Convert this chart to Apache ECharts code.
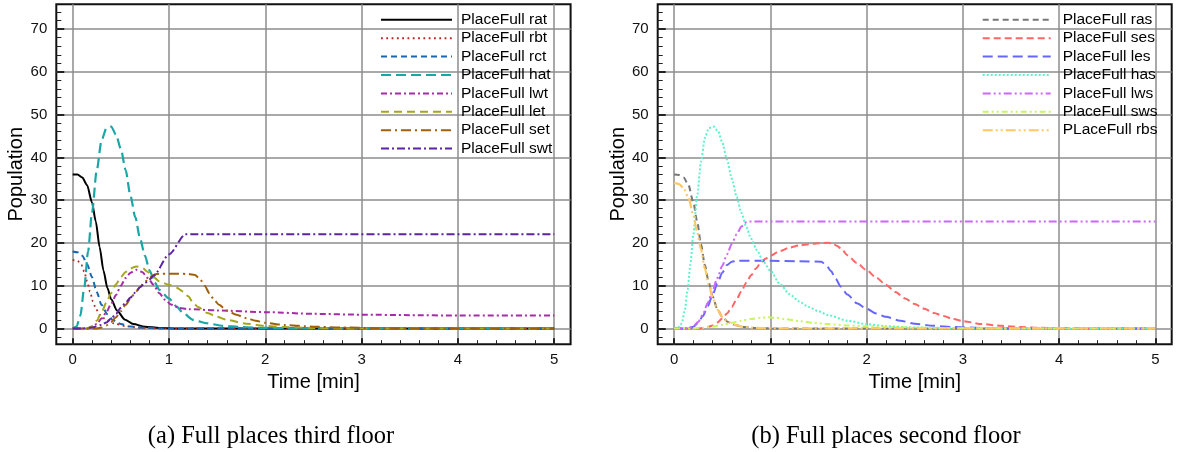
<!DOCTYPE html>
<html><head><meta charset="utf-8">
<script src="https://cdn.jsdelivr.net/npm/echarts@6/dist/echarts.min.js"></script>
<style>html,body{margin:0;padding:0;background:#fff}#c{width:1179px;height:452px}</style>
</head><body><div id="c"></div>
<script>
// ---- axis ticks ----
const xTicks = [0, 1, 2, 3, 4, 5];
const xMinorTicks = [0.2, 0.4, 0.6, 0.8, 1.2, 1.4, 1.6, 1.8, 2.2, 2.4, 2.6, 2.8, 3.2, 3.4, 3.6, 3.8, 4.2, 4.4, 4.6, 4.8];
const yTicks = [0, 10, 20, 30, 40, 50, 60, 70];
const yMinorTicks = [-2, 2, 4, 6, 8, 12, 14, 16, 18, 22, 24, 26, 28, 32, 34, 36, 38, 42, 44, 46, 48, 52, 54, 56, 58, 62, 64, 66, 68, 72, 74];
const xName = 'Time [min]';
const yName = 'Population';
const captionA = '(a) Full places third floor';
const captionB = '(b) Full places second floor';

// ---- third floor series [time, population] ----
const rat = [[0,36],[0.05,36],[0.1,35.3],[0.15,33.5],[0.2,29.5],[0.24,25],[0.28,19],[0.32,13.5],[0.36,9.5],[0.4,6.8],[0.46,4.2],[0.54,2.1],[0.63,1.0],[0.75,0.4],[0.9,0.1],[1.1,0],[5,0]];
const rbt = [[0,16],[0.05,15.8],[0.09,14.9],[0.12,13.3],[0.15,11],[0.18,8.6],[0.21,6.3],[0.24,4.6],[0.28,3.2],[0.35,2.0],[0.45,1.0],[0.55,0.5],[0.7,0.15],[0.9,0],[5,0]];
const rct = [[0,18],[0.05,17.8],[0.1,17],[0.15,15],[0.2,12],[0.25,8.5],[0.3,5.5],[0.36,3.3],[0.42,1.9],[0.5,1.0],[0.6,0.45],[0.75,0.15],[0.9,0],[5,0]];
const hat = [[0,0],[0.04,0.4],[0.08,3],[0.12,9.5],[0.16,18],[0.2,27],[0.25,37],[0.3,44],[0.35,46.8],[0.4,47.2],[0.45,45.3],[0.5,42],[0.55,37],[0.6,31],[0.65,26],[0.7,21],[0.75,17],[0.8,13.5],[0.85,10.8],[0.9,9],[1.0,7],[1.08,5.1],[1.15,3.5],[1.25,2.0],[1.39,1.2],[1.56,0.6],[1.75,0.3],[2.0,0.1],[2.3,0],[5,0]];
const lwt = [[0,0],[0.15,0],[0.2,0.3],[0.25,1],[0.3,2.3],[0.35,3.8],[0.4,5.8],[0.45,7.8],[0.5,10],[0.55,11.8],[0.6,13],[0.66,13.7],[0.72,13.2],[0.78,11.8],[0.84,10.2],[0.9,8.2],[0.96,6.7],[1.02,5.6],[1.1,4.8],[1.2,4.5],[1.5,4.2],[2,3.8],[2.5,3.4],[3,3.2],[3.5,3.1],[4,3.0],[5,3.0]];
const letS = [[0,0],[0.15,0],[0.2,0.5],[0.25,1.8],[0.3,3.8],[0.35,6],[0.4,8.3],[0.45,10.3],[0.5,12],[0.55,13.2],[0.6,14],[0.66,14.5],[0.72,14.2],[0.78,13.2],[0.84,12],[0.9,11],[1.0,10.2],[1.08,9.5],[1.15,8.6],[1.2,7.5],[1.25,6],[1.3,5],[1.4,3.6],[1.5,2.7],[1.6,2],[1.8,1.1],[2.0,0.6],[2.2,0.3],[2.5,0.1],[2.8,0],[5,0]];
const setS = [[0,0],[0.25,0],[0.3,0.2],[0.35,0.7],[0.4,1.5],[0.45,2.6],[0.5,4],[0.55,5.5],[0.6,7],[0.65,8.4],[0.7,9.7],[0.75,10.9],[0.8,11.9],[0.85,12.6],[0.9,12.8],[1.0,12.8],[1.1,12.8],[1.2,12.7],[1.27,12.5],[1.32,11.6],[1.37,10],[1.42,8.2],[1.47,6.6],[1.52,5.5],[1.6,4.2],[1.7,3.2],[1.8,2.4],[1.9,1.8],[2.0,1.3],[2.2,0.8],[2.5,0.4],[2.8,0.2],[3.2,0.05],[3.5,0],[5,0]];
const swt = [[0,0],[0.1,0],[0.2,0.2],[0.3,0.8],[0.35,1.4],[0.4,2.3],[0.45,3.4],[0.5,4.8],[0.55,6],[0.6,7.2],[0.65,8.4],[0.7,9.6],[0.75,10.6],[0.8,11.5],[0.84,12.3],[1.0,17.3],[1.17,22],[1.3,22],[5,22]];

// ---- second floor series ----
const ras = [[0,36],[0.05,35.9],[0.1,35.3],[0.15,33.5],[0.2,29.5],[0.24,25],[0.28,19.7],[0.32,14.8],[0.36,10.8],[0.4,7.5],[0.45,4.5],[0.5,2.7],[0.56,1.5],[0.63,0.8],[0.72,0.35],[0.85,0.1],[1.0,0],[5,0]];
const ses = [[0,0],[0.25,0],[0.3,0.1],[0.35,0.3],[0.4,0.7],[0.45,1.4],[0.5,2.3],[0.55,3.5],[0.6,5],[0.65,6.8],[0.7,8.7],[0.75,10.7],[0.8,12.4],[0.85,14],[0.9,15.3],[0.95,16.3],[1.0,17.0],[1.1,18.1],[1.2,18.9],[1.3,19.4],[1.4,19.7],[1.5,19.9],[1.6,20],[1.65,19.8],[1.7,19.2],[1.75,18.3],[1.8,17.1],[1.9,15.3],[2.0,13.6],[2.1,11.9],[2.2,10.2],[2.3,8.5],[2.4,7.0],[2.5,5.7],[2.6,4.6],[2.7,3.6],[2.8,2.9],[2.9,2.2],[3.0,1.7],[3.2,1.0],[3.4,0.6],[3.6,0.3],[3.8,0.15],[4.0,0.05],[4.3,0],[5,0]];
const les = [[0,0],[0.15,0],[0.2,0.4],[0.25,1.3],[0.3,2.9],[0.35,5.2],[0.4,7.8],[0.45,10.5],[0.5,13],[0.55,14.8],[0.6,15.6],[0.65,15.8],[1.0,15.8],[1.3,15.7],[1.53,15.6],[1.58,14.8],[1.63,13.4],[1.68,11.6],[1.73,9.8],[1.8,7.9],[1.9,5.9],[2.0,4.6],[2.1,3.5],[2.2,2.7],[2.35,1.8],[2.5,1.1],[2.7,0.6],[2.9,0.3],[3.2,0.1],[3.5,0],[5,0]];
const has = [[0,0],[0.05,0.3],[0.08,1.2],[0.11,4],[0.14,9],[0.17,15],[0.2,22],[0.24,31],[0.28,39],[0.32,44.5],[0.36,46.8],[0.41,47.2],[0.46,46],[0.5,43.5],[0.55,39.5],[0.6,35],[0.65,30.8],[0.7,27],[0.75,23.8],[0.8,21],[0.86,18.3],[0.93,15.5],[1.0,13.5],[1.1,10.4],[1.2,8],[1.3,6.3],[1.4,5],[1.5,4],[1.6,3.1],[1.8,1.8],[2.0,1.0],[2.2,0.5],[2.5,0.2],[3.0,0.05],[3.4,0],[5,0]];
const lws = [[0,0],[0.1,0],[0.15,0.1],[0.2,0.5],[0.25,1.5],[0.3,3.3],[0.35,6],[0.4,8.8],[0.45,11.8],[0.5,14.6],[0.55,17.3],[0.6,19.8],[0.65,22],[0.7,23.8],[0.75,24.8],[0.78,25],[5,25]];
const sws = [[0,0],[0.2,0],[0.3,0.15],[0.4,0.4],[0.5,0.8],[0.6,1.3],[0.7,1.8],[0.8,2.2],[0.9,2.5],[0.97,2.6],[1.05,2.5],[1.15,2.2],[1.3,1.7],[1.45,1.3],[1.6,1.0],[1.8,0.7],[2.0,0.5],[2.3,0.3],[2.7,0.1],[3.2,0],[5,0]];
const rbs = [[0,34],[0.05,33.8],[0.1,32.8],[0.15,30.5],[0.2,26.5],[0.24,22.5],[0.28,18.5],[0.32,14],[0.36,10.3],[0.4,7.2],[0.45,4.4],[0.5,2.7],[0.56,1.5],[0.63,0.8],[0.72,0.35],[0.85,0.1],[1.0,0],[5,0]];

const leftSeries = [
  ['PlaceFull rat', rat, '#000000', 'solid', 2],
  ['PlaceFull rbt', rbt, '#b5281e', [1.8, 3.5], 1.8],
  ['PlaceFull rct', rct, '#1a66b0', [6, 4], 2],
  ['PlaceFull hat', hat, '#1aa6a6', [10, 5], 2.2],
  ['PlaceFull lwt', lwt, '#a62ba6', [6, 3, 2, 3], 2],
  ['PlaceFull let', letS, '#a6a61a', [8, 5], 2],
  ['PlaceFull set', setS, '#a0600a', [10, 4, 2, 4], 2],
  ['PlaceFull swt', swt, '#5c23a3', [8, 3, 2, 3], 2]
];
const rightSeries = [
  ['PlaceFull ras', ras, '#777777', [6, 4], 2],
  ['PlaceFull ses', ses, '#ff6666', [7, 4], 2],
  ['PlaceFull les', les, '#6666ff', [10, 5], 2],
  ['PlaceFull has', has, '#5cf2cc', [2, 2], 2],
  ['PlaceFull lws', lws, '#cc66ff', [8, 3, 2, 3, 2, 3], 2],
  ['PlaceFull sws', sws, '#c8f560', [6, 3, 2, 3, 2, 3], 2],
  ['PLaceFull rbs', rbs, '#ffc864', [10, 3, 2, 3, 2, 3], 2.2]
];

const FONT = 'Liberation Sans, Arial, Helvetica, sans-serif';
const X_MIN = -0.17, X_MAX = 5.17, Y_MIN = -3.7, Y_MAX = 75.8;

function axesFor(gi) {
  const xa = [{
    type: 'value', gridIndex: gi, min: X_MIN, max: X_MAX, position: 'bottom',
    name: xName, nameLocation: 'middle', nameGap: 27,
    nameTextStyle: { fontFamily: FONT, fontSize: 20, color: '#000' },
    axisLine: { show: false, onZero: false },
    axisTick: { show: true, inside: true, length: 6, customValues: xTicks, lineStyle: { color: '#222', width: 2 } },
    axisLabel: { show: true, customValues: xTicks, margin: 8, fontFamily: FONT, fontSize: 15, color: '#111' },
    splitLine: { show: true, lineStyle: { color: '#8c8c8c', width: 1.5 } }
  }, {
    type: 'value', gridIndex: gi, min: X_MIN, max: X_MAX, position: 'bottom',
    axisLine: { show: false, onZero: false },
    axisTick: { show: true, inside: true, length: 4, customValues: xMinorTicks, lineStyle: { color: '#222', width: 1 } },
    axisLabel: { show: false }, splitLine: { show: false }
  }];
  const ya = [{
    type: 'value', gridIndex: gi, min: Y_MIN, max: Y_MAX, position: 'left',
    name: yName, nameLocation: 'middle', nameGap: 28, nameRotate: 90,
    nameTextStyle: { fontFamily: FONT, fontSize: 20, color: '#000' },
    axisLine: { show: false, onZero: false },
    axisTick: { show: true, inside: true, length: 8, customValues: yTicks, lineStyle: { color: '#222', width: 2 } },
    axisLabel: { show: true, customValues: yTicks, margin: 9, fontFamily: FONT, fontSize: 15, color: '#111' },
    splitLine: { show: true, lineStyle: { color: '#8c8c8c', width: 1.5 } }
  }, {
    type: 'value', gridIndex: gi, min: Y_MIN, max: Y_MAX, position: 'left',
    axisLine: { show: false, onZero: false },
    axisTick: { show: true, inside: true, length: 5, customValues: yMinorTicks, lineStyle: { color: '#222', width: 1 } },
    axisLabel: { show: false }, splitLine: { show: false }
  }];
  return { xa, ya };
}

const a0 = axesFor(0), a1 = axesFor(1);
const series = [];
function addSeries(list, xi, yi) {
  list.forEach(([name, data, color, dash, w], i) => {
    series.push({
      name, type: 'line', data, xAxisIndex: xi, yAxisIndex: yi,
      symbol: 'none', showSymbol: false, smooth: 0.25, smoothMonotone: 'x',
      animation: false, z: 2 + i,
      lineStyle: { color, type: dash, width: w },
      itemStyle: { color },
      emphasis: { disabled: true }
    });
  });
}
addSeries(leftSeries, 0, 0);
addSeries(rightSeries, 2, 2);

const legendCommon = {
  orient: 'vertical', itemHeight: 10, itemGap: 2.4, padding: 0,
  selectedMode: false,
  itemStyle: { opacity: 0, borderWidth: 0 },
  textStyle: { fontFamily: FONT, fontSize: 15.5, lineHeight: 15, color: '#000' }
};

const capFont = '24.5px "Liberation Serif", "DejaVu Serif", serif';
const option = {
  animation: false,
  backgroundColor: '#fff',
  grid: [
    { left: 56.3, top: 4.3, width: 514.3, height: 339.9, show: true, borderColor: '#111', borderWidth: 2, backgroundColor: 'transparent' },
    { left: 657.7, top: 4.3, width: 514, height: 339.9, show: true, borderColor: '#111', borderWidth: 2, backgroundColor: 'transparent' }
  ],
  xAxis: [...a0.xa.map(a => ({ ...a, gridIndex: 0 })), ...a1.xa.map(a => ({ ...a, gridIndex: 1 }))],
  yAxis: [...a0.ya.map(a => ({ ...a, gridIndex: 0 })), ...a1.ya.map(a => ({ ...a, gridIndex: 1 }))],
  legend: [
    { ...legendCommon, left: 380, top: 11.8, itemWidth: 71,
      data: leftSeries.map(s => s[0]),
      textStyle: { ...legendCommon.textStyle, padding: [0, 0, 0, 4] } },
    { ...legendCommon, left: 981.7, top: 11.8, itemWidth: 68,
      data: rightSeries.map(s => s[0]),
      textStyle: { ...legendCommon.textStyle, padding: [0, 0, 0, 7] } }
  ],
  graphic: [
    { type: 'text', x: 271, y: 437, style: { text: captionA, font: capFont, fill: '#000', textAlign: 'center', textVerticalAlign: 'middle' } },
    { type: 'text', x: 886, y: 437, style: { text: captionB, font: capFont, fill: '#000', textAlign: 'center', textVerticalAlign: 'middle' } }
  ],
  series
};
const chart = echarts.init(document.getElementById('c'), null, { renderer: 'canvas' });
chart.setOption(option);
</script>
</body></html>
